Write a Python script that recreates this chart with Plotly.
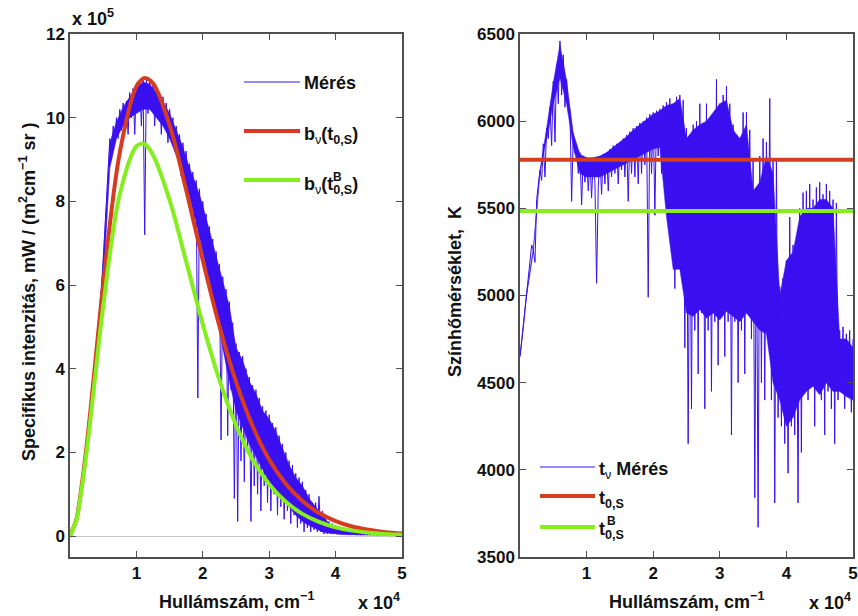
import plotly.graph_objects as go
from plotly.subplots import make_subplots

# ---------------- data ----------------
# wavenumber grid of the measured spectra (cm^-1), step 250
wavenumber = list(range(0, 50001, 250))

# measured specific intensity, units of 1e5 mW/(m2 cm-1 sr)
intensity_measured = [
    0, 0.10, 0.20, 0.30,
    0.42, 0.64, 0.89, 1.17,
    1.47, 1.80, 2.15, 2.52,
    2.89, 3.27, 3.66, 4.06,
    4.5, 4.9, 5.5, 5.9,
    6.6, 7.3, 8.2, 8.9,
    9.5, 9.0, 9.8, 9.4,
    10.0, 9.5, 10.2, 9.7,
    10.35, 9.9, 10.4, 9.6,
    10.6, 10.0, 10.7, 9.6,
    10.8, 10.2, 10.85, 9.8,
    10.95, 7.2, 10.95, 10.1,
    10.9, 10.2, 10.85, 9.8,
    10.7, 10.1, 10.6, 9.6,
    10.5, 9.9, 10.35, 9.4,
    10.2, 9.7, 10.0, 9.2,
    9.8, 9.3, 9.6, 8.6,
    9.4, 8.9, 9.2, 8.3,
    8.9, 8.3, 8.7, 7.6,
    8.5, 3.3, 8.3, 7.2,
    8.0, 7.0, 7.7, 6.1,
    7.4, 6.3, 7.1, 5.4,
    6.8, 5.6, 6.5, 2.3,
    6.2, 4.5, 5.9, 2.4,
    5.6, 3.5, 5.1, 0.9,
    4.6, 0.35, 4.4, 1.8,
    4.3, 1.3, 4.0, 2.0,
    3.8, 0.35, 3.6, 1.2,
    3.5, 1.0, 3.3, 0.6,
    3.1, 1.2, 3.0, 0.8,
    2.9, 0.6, 2.7, 1.0,
    2.6, 0.5, 2.4, 0.7,
    2.2, 0.4, 2.0, 0.6,
    1.8, 0.3, 1.7, 0.5,
    1.5, 0.2, 1.4, 0.3,
    1.3, 0.1, 1.1, 0.2,
    1.0, 0.1, 0.8, 0.15,
    0.8, 0.1, 0.95, 0.1,
    0.6, 0.05, 0.4, 0.05,
    0.35, 0.05, 0.3, 0.05,
    0.25, 0.04, 0.2, 0.03,
    0.15, 0.03, 0.14, 0.03,
    0.13, 0.03, 0.12, 0.03,
    0.12, 0.02, 0.11, 0.02,
    0.1, 0.02, 0.1, 0.02,
    0.09, 0.02, 0.09, 0.02,
    0.08, 0.02, 0.08, 0.02,
    0.07, 0.02, 0.07, 0.02,
    0.06, 0.02, 0.06, 0.02,
    0.05, 0.02, 0.05, 0.02,
    0.04,
]

# dense core of the measured intensity (upper / lower edge), step 1000
core_wavenumber = list(range(0, 50001, 1000))
intensity_core_hi = [0, 0.42, 1.47, 2.89, 4.5, 6.6, 9.4, 9.9, 10.25, 10.5, 10.7, 10.85,
                     10.8, 10.6, 10.4, 10.1, 9.7, 9.3, 8.8, 8.4, 7.9, 7.3, 6.7, 6.1,
                     5.5, 4.5, 4.2, 3.7, 3.4, 3.0, 2.8, 2.5, 2.1, 1.7, 1.4, 1.2,
                     0.9, 0.7, 0.5, 0.3, 0.2, 0.14, 0.12, 0.11, 0.1, 0.09, 0.08,
                     0.07, 0.06, 0.05, 0.04]
intensity_core_lo = [0, 0.40, 1.45, 2.85, 4.3, 6.0, 8.8, 9.5, 9.8, 10.0, 10.1, 10.2,
                     10.2, 10.0, 9.8, 9.5, 9.1, 8.6, 8.1, 7.5, 6.8, 6.1, 5.3, 4.5,
                     3.7, 3.0, 2.6, 2.2, 1.9, 1.6, 1.3, 1.1, 0.9, 0.7, 0.5, 0.35,
                     0.25, 0.18, 0.1, 0.07, 0.05, 0.04, 0.03, 0.03, 0.02, 0.02,
                     0.02, 0.02, 0.02, 0.02, 0.02]

# measured colour temperature (K)
temperature_measured = [
    4650, 4720, 4820, 4920,
    5020, 5110, 5220, 5290,
    5260, 5190, 5550, 5620,
    5720, 5660, 5870, 5680,
    5960, 5900, 6080, 5860,
    6230, 5880, 6320, 6100,
    6460, 6150, 6380, 6080,
    6240, 6050, 6060, 5540,
    5930, 5820, 5860, 5700,
    5820, 5520, 5800, 5650,
    5790, 5600, 5780, 5560,
    5790, 5650, 5070, 5620,
    5800, 5580, 5810, 5640,
    5820, 5600, 5840, 5680,
    5860, 5700, 5870, 5640,
    5880, 5720, 5900, 5680,
    5920, 5540, 5940, 5700,
    5960, 5680, 5970, 5640,
    5990, 5700, 6000, 5750,
    6020, 4990, 6040, 5700,
    6050, 5460, 6060, 5800,
    6070, 5700, 6090, 5600,
    6110, 5500, 6130, 5300,
    6100, 5040, 6140, 5200,
    6150, 5100, 6120, 4700,
    5960, 4150, 5700, 4350,
    5980, 4800, 6000, 4550,
    6100, 4900, 5990, 4350,
    6100, 4800, 5980, 4450,
    6000, 4850, 6240, 4600,
    6100, 4900, 6150, 4650,
    6200, 4850, 6100, 4200,
    5980, 4850, 5920, 4500,
    5900, 4800, 6050, 4550,
    6050, 4900, 5950, 4750,
    5770, 3840, 5520, 3670,
    5800, 4500, 5900, 4400,
    5880, 4850, 6130, 4400,
    5770, 3810, 5780, 4300,
    5050, 4250, 5100, 4150,
    5200, 3980, 5450, 4250,
    5290, 4200, 5300, 3810,
    5500, 4100, 5590, 4450,
    5600, 4400, 5640, 4500,
    5550, 4250, 5620, 4500,
    5650, 4400, 5580, 4200,
    5640, 4450, 5600, 4350,
    5550, 4150, 5530, 4400,
    4800, 4450, 4820, 4350,
    4780, 4500, 4800, 4330,
    4750,
]

# dense core of the measured colour temperature, step 1000
temperature_core_hi = [4650, 5020, 5270, 5720, 5960, 6220, 6440, 6230, 5930, 5810,
                       5790, 5790, 5800, 5820, 5850, 5880, 5910, 5950, 5980, 6010,
                       6040, 6060, 6090, 6100, 6130, 5900, 5950, 5980, 6000, 6050,
                       6100, 6120, 5950, 5900, 5980, 5600, 5650, 5800, 5700, 5000,
                       5200, 5250, 5450, 5500, 5500, 5550, 5550, 5500, 4750, 4750, 4700]
temperature_core_lo = [4650, 5000, 5250, 5700, 5900, 6100, 6250, 6100, 5850, 5700,
                       5680, 5680, 5680, 5700, 5720, 5740, 5760, 5780, 5800, 5820,
                       5840, 5850, 5450, 5150, 5150, 4900, 4880, 4920, 4870, 4900,
                       4860, 4910, 4880, 4850, 4900, 4850, 4800, 4780, 4500, 4400,
                       4250, 4300, 4400, 4450, 4480, 4430, 4500, 4450, 4450, 4420, 4400]

# fitted black-body curves (units of 1e5)
bb_wavenumber = [0, 1000, 1250, 2500, 3750, 5000, 7500, 10000, 10750, 11250, 12500, 15000,
                 17500, 20000, 22500, 25000, 27500, 30000, 32500, 35000, 37500,
                 40000, 42500, 45000, 47500, 50000]
bb_t0s = [0, 0.42, 0.64, 2.15, 4.06, 6.01, 9.17, 10.75, 10.90, 10.95, 10.82, 9.82,
          8.27, 6.59, 5.02, 3.69, 2.63, 1.83, 1.25, 0.84, 0.55,
          0.36, 0.23, 0.15, 0.09, 0.06]
bb_t0s_b = [0, 0.40, 0.60, 2.01, 3.75, 5.49, 8.17, 9.32, 9.38, 9.37, 9.11, 8.03,
            6.56, 5.06, 3.73, 2.65, 1.83, 1.24, 0.82, 0.53, 0.34,
            0.21, 0.13, 0.08, 0.05, 0.03]

# colour temperatures (K)
t0s = 5778
t0s_b = 5485
temp_x_span = [0, 50000]

x_tick_vals = [10000, 20000, 30000, 40000, 50000]
x_tick_text = ["1", "2", "3", "4", "5"]
left_y_ticks = [0, 2, 4, 6, 8, 10, 12]
right_y_ticks = [3500, 4000, 4500, 5000, 5500, 6000, 6500]

BLUE = "#3a10f0"
RED = "#d63c1f"
GREEN = "#84ee1e"
AXC = "#505050"
FONT = "Liberation Sans"

fig = make_subplots(rows=1, cols=2)

def add_measured(x, y, cx, lo, hi, col):
    fig.add_trace(go.Scatter(x=cx, y=lo, mode="lines", line=dict(color=BLUE, width=0.5),
                             showlegend=False, hoverinfo="skip"), 1, col)
    fig.add_trace(go.Scatter(x=cx, y=hi, mode="lines", line=dict(color=BLUE, width=0.5),
                             fill="tonexty", fillcolor=BLUE, showlegend=False,
                             hoverinfo="skip"), 1, col)
    fig.add_trace(go.Scatter(x=x, y=y, mode="lines", line=dict(color=BLUE, width=1),
                             showlegend=False), 1, col)

add_measured(wavenumber, intensity_measured, core_wavenumber,
             intensity_core_lo, intensity_core_hi, 1)
fig.add_trace(go.Scatter(x=bb_wavenumber, y=bb_t0s, mode="lines", line_shape="spline",
                         line=dict(color=RED, width=4), showlegend=False), 1, 1)
fig.add_trace(go.Scatter(x=bb_wavenumber, y=bb_t0s_b, mode="lines", line_shape="spline",
                         line=dict(color=GREEN, width=4), showlegend=False), 1, 1)

add_measured(wavenumber, temperature_measured, core_wavenumber,
             temperature_core_lo, temperature_core_hi, 2)
fig.add_trace(go.Scatter(x=temp_x_span, y=[t0s, t0s], mode="lines",
                         line=dict(color=RED, width=4), showlegend=False), 1, 2)
fig.add_trace(go.Scatter(x=temp_x_span, y=[t0s_b, t0s_b], mode="lines",
                         line=dict(color=GREEN, width=4), showlegend=False), 1, 2)

W, H = 858, 616
def px(xp):
    return xp / W
def py(yp):
    return 1 - yp / H

axis_common = dict(showline=True, linecolor=AXC, linewidth=1.5, mirror="ticks",
                   ticks="inside", ticklen=6, tickwidth=1.2, tickcolor=AXC,
                   showgrid=False, automargin=False,
                   tickfont=dict(family=FONT, size=17, color="#111111", weight="bold"))

fig.update_xaxes(range=[0, 50000], tickvals=x_tick_vals, ticktext=x_tick_text,
                 zeroline=False, **axis_common)
fig.update_xaxes(domain=[px(70), px(402)], row=1, col=1)
fig.update_xaxes(domain=[px(520), px(853)], row=1, col=2)
fig.update_yaxes(domain=[py(557), py(34)], **axis_common)
fig.update_yaxes(range=[-0.5, 12], tickvals=left_y_ticks, zeroline=True,
                 zerolinecolor="#c8c8c8", zerolinewidth=1, row=1, col=1)
fig.update_yaxes(range=[3500, 6500], tickvals=right_y_ticks, zeroline=False,
                 row=1, col=2)

bold = dict(family=FONT, size=18, color="#111111")
ann = []
def note(text, x, y, xa="center", ya="middle", font=bold, angle=0):
    ann.append(dict(text=text, x=px(x), y=py(y), xref="paper", yref="paper",
                    xanchor=xa, yanchor=ya, showarrow=False, font=font, textangle=angle))

# axis titles
note("<b>Hullámszám, cm<sup>−1</sup></b>", 236, 600)
note("<b>Hullámszám, cm<sup>−1</sup></b>", 686, 600)
note("<b>Specifikus intenzitás, mW / (m<sup>2</sup>cm<sup>−1</sup> sr )</b>", 27, 292, angle=-90)
note("<b>Színhőmérséklet,  K</b>", 455, 292, angle=-90)
# exponent labels
note("<b>x 10<sup>4</sup></b>", 402, 601, xa="right")
note("<b>x 10<sup>4</sup></b>", 853, 601, xa="right")
note("<b>x 10<sup>5</sup></b>", 70, 17, xa="left")

shapes = []
leg_font = dict(family=FONT, size=17, color="#111111")
small_font = dict(family=FONT, size=12, color="#111111")
# left legend
for yy, col, w, txt in [(82, BLUE, 1, "<b>Mérés</b>"),
                        (131, RED, 4, "<b>b</b><sub>ν</sub><b>(t<sub>0,S</sub>)</b>"),
                        (180, GREEN, 4, "<b>b</b><sub>ν</sub><b>(t<sub>0,S</sub>)</b>")]:
    shapes.append(dict(type="line", xref="paper", yref="paper", x0=px(244), x1=px(300),
                       y0=py(yy), y1=py(yy), line=dict(color=col, width=w)))
    note(txt, 302, yy + (1 if yy == 82 else 5), xa="left")
note("<b>B</b>", 331, 177, xa="left", font=small_font)
# right legend
for yy, col, w, txt in [(467, BLUE, 1, "<b>t</b><sub>ν</sub><b> Mérés</b>"),
                        (496, RED, 4, "<b>t<sub>0,S</sub></b>"),
                        (527, GREEN, 4, "<b>t<sub>0,S</sub></b>")]:
    shapes.append(dict(type="line", xref="paper", yref="paper", x0=px(540), x1=px(595),
                       y0=py(yy), y1=py(yy), line=dict(color=col, width=w)))
    note(txt, 597, yy + 3, xa="left")
note("<b>B</b>", 605, 521, xa="left", font=small_font)

fig.update_layout(width=W, height=H, margin=dict(l=0, r=0, t=0, b=0, pad=0),
                  autosize=False,
                  paper_bgcolor="white", plot_bgcolor="white",
                  annotations=ann, shapes=shapes, showlegend=False)

fig.write_html("out.html", config={"displayModeBar": False},
               post_script="document.body.style.margin='0';document.body.style.padding='0';")
